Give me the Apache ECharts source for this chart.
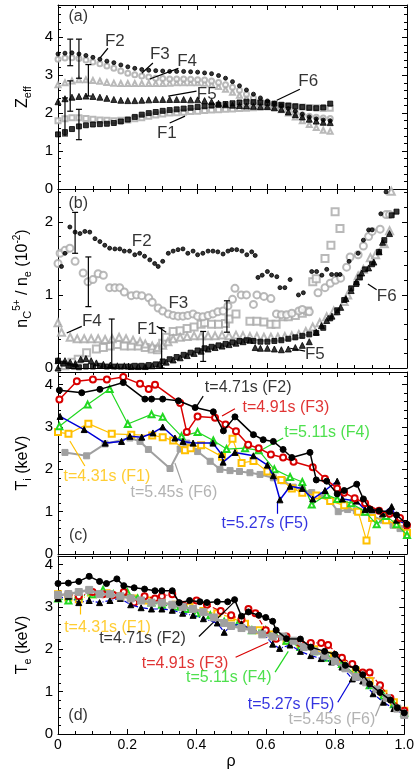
<!DOCTYPE html>
<html>
<head>
<meta charset="utf-8">
<script src="https://cdn.jsdelivr.net/npm/echarts@6/dist/echarts.min.js"></script>
<style>
  html, body { margin: 0; padding: 0; background: #fff; }
  #chart { width: 417px; height: 771px; }
</style>
</head>
<body>
<div id="chart"></div>
<script>
// Colours of the six time slices
const COLORS = {
  F1: '#FFC000',
  F2: '#000000',
  F3: '#D80000',
  F4: '#22D822',
  F5: '#0000D8',
  F6: '#A0A0A0',
};
const OPEN_GRAY = '#a8a8a8';
const FONT = '"Liberation Sans", Arial, sans-serif';

// ---- (a) Zeff profiles ----
const rhoA = [0, 0.02, 0.04, 0.06, 0.08, 0.10, 0.12, 0.14, 0.16, 0.18,
  0.20, 0.22, 0.24, 0.26, 0.28, 0.30, 0.32, 0.34, 0.36, 0.38,
  0.40, 0.42, 0.44, 0.46, 0.48, 0.50, 0.52, 0.54, 0.56, 0.58,
  0.60, 0.62, 0.64, 0.66, 0.68, 0.70, 0.72, 0.74, 0.76, 0.78];
const zeffF1 = [1.80, 1.85, 1.88, 1.88, 1.86, 1.84, 1.82, 1.81, 1.80, 1.81,
  1.82, 1.85, 1.88, 1.92, 1.95, 1.98, 2.00, 2.01, 2.02, 2.04,
  2.05, 2.07, 2.08, 2.09, 2.10, 2.11, 2.12, 2.13, 2.14, 2.16,
  2.18, 2.19, 2.20, 2.19, 2.17, 2.16, 2.15, 2.14, 2.12, 2.13];
const zeffF2 = [3.56, 3.58, 3.59, 3.56, 3.52, 3.47, 3.42, 3.37, 3.33, 3.27,
  3.22, 3.18, 3.15, 3.13, 3.12, 3.11, 3.10, 3.10, 3.10, 3.09,
  3.08, 3.06, 3.04, 2.99, 2.92, 2.83, 2.72, 2.61, 2.50, 2.40,
  2.32, 2.26, 2.20, 2.12, 2.05, 1.97, 1.90, 1.85, 1.82, 1.80];
const zeffF3 = [3.42, 3.45, 3.46, 3.44, 3.40, 3.35, 3.30, 3.24, 3.18, 3.11,
  3.05, 3.01, 2.98, 2.95, 2.92, 2.91, 2.90, 2.90, 2.90, 2.89,
  2.88, 2.87, 2.85, 2.81, 2.75, 2.68, 2.60, 2.50, 2.40, 2.32,
  2.25, 2.17, 2.10, 2.05, 2.00, 1.96, 1.92, 1.89, 1.87, 1.86];
const zeffF4 = [2.75, 2.80, 2.85, 2.88, 2.88, 2.86, 2.84, 2.81, 2.79, 2.78,
  2.78, 2.78, 2.78, 2.78, 2.78, 2.78, 2.79, 2.80, 2.80, 2.80,
  2.80, 2.79, 2.76, 2.70, 2.63, 2.55, 2.47, 2.40, 2.33, 2.27,
  2.21, 2.15, 2.09, 2.00, 1.90, 1.80, 1.70, 1.62, 1.55, 1.52];
const zeffF5 = [2.30, 2.38, 2.42, 2.44, 2.45, 2.44, 2.42, 2.39, 2.36, 2.34,
  2.33, 2.33, 2.34, 2.35, 2.36, 2.36, 2.36, 2.36, 2.36, 2.35,
  2.35, 2.33, 2.30, 2.26, 2.22, 2.21, 2.20, 2.19, 2.18, 2.17,
  2.17, 2.14, 2.10, 2.03, 1.96, 1.90, 1.84, 1.79, 1.76, 1.75];
const zeffF6 = [1.44, 1.50, 1.58, 1.65, 1.68, 1.70, 1.71, 1.72, 1.74, 1.78,
  1.83, 1.90, 1.96, 2.00, 2.03, 2.06, 2.08, 2.10, 2.12, 2.14,
  2.16, 2.18, 2.20, 2.22, 2.24, 2.26, 2.28, 2.30, 2.29, 2.28,
  2.27, 2.25, 2.22, 2.20, 2.18, 2.16, 2.14, 2.13, 2.15, 2.25];
// [rho, low, high]
const zeffErr = [[0.02, 1.4, 2.4], [0.035, 3.25, 3.95], [0.035, 2.05, 2.85],
  [0.06, 2.92, 3.95], [0.06, 1.3, 2.1], [0.087, 2.45, 3.28]];

// ---- (b) nC5+/ne (10^-2), [rho, value] ----
const carbF1 = [[0.02, 0.03], [0.04, 0.08], [0.058, 0.12], [0.082, 0.21], [0.11, 0.26], [0.13, 0.28],
  [0.15, 0.3], [0.17, 0.32], [0.19, 0.3], [0.21, 0.3], [0.23, 0.3], [0.25, 0.28], [0.27, 0.26],
  [0.285, 0.25], [0.3, 0.34], [0.31, 0.42], [0.33, 0.5], [0.35, 0.51], [0.37, 0.54], [0.39, 0.56],
  [0.41, 0.6], [0.42, 0.62], [0.44, 0.6], [0.46, 0.6], [0.48, 0.61], [0.49, 0.67], [0.51, 0.74],
  [0.55, 0.64], [0.57, 0.64], [0.59, 0.63], [0.61, 0.6], [0.625, 0.6], [0.645, 0.7], [0.66, 0.7],
  [0.68, 0.72], [0.7, 0.75], [0.715, 0.78], [0.73, 1.18], [0.74, 1.22], [0.765, 1.5],
  [0.782, 1.68], [0.794, 2.14], [0.808, 1.91]];
const carbF2 = [[0.01, 1.39], [0.02, 1.57], [0.034, 1.93], [0.049, 1.86], [0.063, 1.84], [0.077, 1.87],
  [0.091, 1.86], [0.106, 1.77], [0.12, 1.73], [0.134, 1.68], [0.148, 1.64], [0.163, 1.63],
  [0.177, 1.63], [0.19, 1.6], [0.205, 1.6], [0.22, 1.55], [0.234, 1.57], [0.248, 1.53],
  [0.263, 1.48], [0.277, 1.43], [0.287, 1.39], [0.3, 1.46], [0.316, 1.57], [0.33, 1.6],
  [0.344, 1.62], [0.358, 1.63], [0.372, 1.57], [0.387, 1.6], [0.4, 1.55], [0.415, 1.57],
  [0.43, 1.6], [0.444, 1.6], [0.458, 1.59], [0.473, 1.56], [0.487, 1.6], [0.498, 1.62],
  [0.512, 1.62], [0.527, 1.6], [0.541, 1.55], [0.555, 1.59], [0.565, 1.54],
  [0.573, 1.24], [0.585, 1.27], [0.6, 1.32], [0.612, 1.27], [0.627, 1.25], [0.636, 1.1],
  [0.65, 1.1], [0.665, 1.21], [0.689, 1.0], [0.703, 1.03], [0.727, 1.32], [0.741, 1.32],
  [0.756, 1.27], [0.77, 1.35], [0.784, 1.28], [0.798, 1.28], [0.808, 1.28], [0.834, 1.46],
  [0.86, 1.57], [0.875, 1.75], [0.89, 1.89], [0.9, 1.89], [0.925, 2.11], [0.94, 2.41]];
const carbF3 = [[0.0, 1.43], [0.006, 1.57], [0.02, 1.61], [0.034, 1.64], [0.049, 1.46], [0.072, 1.3],
  [0.086, 1.18], [0.1, 1.21], [0.115, 1.29], [0.13, 1.27], [0.148, 1.1], [0.163, 1.1],
  [0.177, 1.1], [0.19, 1.04], [0.21, 0.99], [0.225, 1.0], [0.24, 0.99], [0.26, 0.96],
  [0.27, 0.9], [0.287, 0.82], [0.3, 0.78], [0.316, 0.74], [0.33, 0.72], [0.344, 0.71],
  [0.358, 0.71], [0.372, 0.72], [0.387, 0.74], [0.4, 0.71], [0.415, 0.7], [0.43, 0.72],
  [0.444, 0.74], [0.458, 0.77], [0.473, 0.78], [0.487, 0.85], [0.5, 0.94], [0.507, 1.09],
  [0.525, 1.0], [0.54, 1.0], [0.56, 0.87], [0.57, 1.0], [0.59, 0.98], [0.61, 0.95],
  [0.626, 0.74], [0.64, 0.73], [0.655, 0.73], [0.67, 0.75], [0.69, 0.78], [0.7, 0.8],
  [0.72, 0.77], [0.745, 1.03], [0.765, 1.1], [0.78, 1.16], [0.795, 1.2], [0.81, 1.23],
  [0.827, 1.38], [0.837, 1.52], [0.86, 1.55], [0.875, 1.67], [0.89, 1.8], [0.9, 1.87],
  [0.923, 1.9], [0.94, 2.1], [0.95, 2.1]];
const carbF4 = [[0.0, 0.62], [0.01, 0.49], [0.035, 0.42], [0.055, 0.4], [0.075, 0.4], [0.095, 0.4],
  [0.115, 0.4], [0.135, 0.39], [0.155, 0.4], [0.175, 0.42], [0.195, 0.4], [0.215, 0.38],
  [0.235, 0.36], [0.25, 0.33], [0.27, 0.3], [0.285, 0.28], [0.3, 0.31], [0.315, 0.36],
  [0.33, 0.4], [0.35, 0.42], [0.37, 0.43], [0.39, 0.44], [0.41, 0.44], [0.43, 0.44],
  [0.45, 0.44], [0.47, 0.45], [0.49, 0.44], [0.51, 0.45], [0.53, 0.44], [0.55, 0.43],
  [0.57, 0.43], [0.59, 0.42], [0.61, 0.42], [0.63, 0.42], [0.65, 0.43], [0.67, 0.44],
  [0.69, 0.46], [0.71, 0.5], [0.73, 0.56], [0.75, 0.62], [0.77, 0.7], [0.79, 0.78],
  [0.82, 0.91], [0.83, 1.0], [0.86, 1.26], [0.875, 1.35], [0.895, 1.51], [0.91, 1.55],
  [0.935, 1.7], [0.95, 1.88], [0.955, 2.42]];
const carbF5 = [[0.0, 0.0], [0.0, 0.1], [0.02, 0.1], [0.035, 0.08], [0.05, 0.06], [0.065, 0.12],
  [0.08, 0.13], [0.095, 0.1], [0.11, 0.07], [0.13, 0.05], [0.15, 0.04], [0.17, 0.03],
  [0.19, 0.03], [0.21, 0.02], [0.23, 0.02], [0.25, 0.02], [0.27, 0.03], [0.29, 0.05],
  [0.31, 0.08], [0.33, 0.11], [0.35, 0.14], [0.37, 0.17], [0.39, 0.2], [0.41, 0.23],
  [0.43, 0.26], [0.45, 0.28], [0.47, 0.3], [0.49, 0.32], [0.51, 0.34], [0.53, 0.36],
  [0.55, 0.38], [0.565, 0.28], [0.58, 0.27], [0.6, 0.27], [0.62, 0.26], [0.64, 0.25],
  [0.66, 0.26], [0.68, 0.28], [0.7, 0.31], [0.72, 0.36], [0.74, 0.49], [0.755, 0.58],
  [0.77, 0.65], [0.785, 0.71], [0.8, 0.77], [0.81, 0.83], [0.825, 0.95], [0.84, 1.06],
  [0.855, 1.18], [0.87, 1.3], [0.89, 1.37], [0.905, 1.45], [0.92, 1.59], [0.93, 1.72],
  [0.95, 1.84]];
const carbF6 = [[0.0, 0.1], [0.015, 0.06], [0.03, 0.03], [0.045, 0.02], [0.06, 0.01], [0.08, 0.02],
  [0.1, 0.02], [0.12, 0.03], [0.14, 0.02], [0.16, 0.02], [0.18, 0.02], [0.2, 0.02],
  [0.22, 0.03], [0.24, 0.03], [0.26, 0.04], [0.28, 0.05], [0.3, 0.09], [0.32, 0.12],
  [0.34, 0.15], [0.36, 0.18], [0.38, 0.21], [0.4, 0.24], [0.42, 0.27], [0.44, 0.29],
  [0.46, 0.31], [0.48, 0.33], [0.5, 0.35], [0.52, 0.37], [0.54, 0.38], [0.56, 0.37],
  [0.58, 0.36], [0.6, 0.36], [0.62, 0.37], [0.64, 0.38], [0.66, 0.4], [0.68, 0.42],
  [0.7, 0.44], [0.72, 0.46], [0.74, 0.48], [0.76, 0.55], [0.78, 0.68], [0.8, 0.79],
  [0.82, 0.93], [0.84, 1.09], [0.855, 1.15], [0.865, 1.24], [0.88, 1.35], [0.9, 1.42],
  [0.92, 1.59], [0.935, 1.75], [0.956, 2.09], [0.97, 2.14]];
const carbErr = [[0.049, 1.57, 2.13], [0.087, 0.84, 1.52], [0.154, 0.0, 0.67],
  [0.297, 0.0, 0.55], [0.416, 0.09, 0.5], [0.484, 0.49, 0.92]];

// ---- (c) Ti (keV), [rho, value] ----
const tiF1 = [[0, 2.88], [0.03, 2.84], [0.087, 3.08], [0.154, 2.84], [0.21, 2.82], [0.27, 2.8],
  [0.3, 2.76], [0.33, 2.68], [0.364, 2.45], [0.38, 2.5], [0.41, 2.57], [0.47, 2.3], [0.5, 2.72],
  [0.526, 2.15], [0.56, 2.2], [0.6, 1.95], [0.64, 1.75], [0.67, 1.55], [0.7, 1.45], [0.74, 1.38],
  [0.78, 1.25], [0.82, 1.15], [0.86, 1.0], [0.884, 0.32], [0.9, 0.85], [0.94, 0.8], [0.97, 0.7],
  [1.0, 0.5]];
const tiF2 = [[0.004, 3.87], [0.068, 3.81], [0.12, 3.89], [0.187, 4.05], [0.249, 3.66], [0.268, 3.66],
  [0.3, 3.66], [0.345, 3.62], [0.393, 3.46], [0.445, 3.36], [0.474, 2.91], [0.507, 3.24],
  [0.56, 2.82], [0.588, 2.7], [0.617, 2.66], [0.645, 2.47], [0.67, 2.28], [0.722, 2.4],
  [0.74, 1.75], [0.77, 1.72], [0.8, 1.42], [0.82, 1.5], [0.856, 1.65], [0.875, 1.3],
  [0.894, 1.06], [0.92, 1.02], [0.95, 1.0], [0.97, 0.92], [1.0, 0.7]];
const tiF3 = [[0.004, 3.65], [0.054, 4.08], [0.1, 4.12], [0.14, 4.12], [0.187, 4.18], [0.235, 4.02],
  [0.26, 3.9], [0.278, 4.0], [0.35, 3.57], [0.369, 2.88], [0.4, 3.25], [0.45, 3.22], [0.48, 3.06],
  [0.51, 2.9], [0.545, 2.58], [0.575, 2.5], [0.61, 2.35], [0.645, 2.28], [0.675, 2.18],
  [0.73, 2.05], [0.765, 1.78], [0.8, 1.55], [0.82, 1.45], [0.85, 1.32], [0.88, 1.2],
  [0.92, 1.02], [0.95, 0.95], [0.98, 0.85], [1.0, 0.68]];
const tiF4 = [[0.004, 3.02], [0.085, 3.53], [0.148, 3.9], [0.2, 3.07], [0.268, 3.3], [0.3, 3.24],
  [0.354, 2.78], [0.4, 2.88], [0.445, 2.68], [0.483, 2.48], [0.536, 2.5], [0.575, 2.45],
  [0.62, 2.0], [0.665, 1.82], [0.7, 1.7], [0.727, 1.17], [0.77, 1.4], [0.8, 1.3], [0.84, 1.2],
  [0.88, 1.0], [0.913, 0.7], [0.94, 0.9], [0.97, 0.7], [1.0, 0.45]];
const tiF5 = [[0.006, 3.25], [0.075, 2.94], [0.135, 2.62], [0.182, 2.66], [0.206, 2.78], [0.24, 2.76],
  [0.272, 2.86], [0.3, 3.0], [0.335, 2.74], [0.358, 2.66], [0.387, 2.62], [0.444, 2.62],
  [0.469, 2.35], [0.473, 2.17], [0.507, 2.4], [0.56, 2.32], [0.6, 2.1], [0.617, 1.85],
  [0.636, 1.28], [0.665, 1.6], [0.7, 1.55], [0.73, 1.3], [0.765, 1.5], [0.8, 1.72],
  [0.815, 1.3], [0.855, 1.25], [0.88, 1.05], [0.9, 1.05], [0.93, 0.95], [0.956, 1.12],
  [0.97, 0.8], [1.0, 0.7]];
const tiF6 = [[0.02, 2.4], [0.082, 2.32], [0.135, 2.6], [0.206, 2.74], [0.235, 2.66], [0.259, 2.47],
  [0.321, 2.02], [0.35, 2.48], [0.369, 2.62], [0.4, 2.42], [0.436, 2.19], [0.464, 2.0],
  [0.493, 1.97], [0.52, 1.95], [0.55, 1.92], [0.579, 1.88], [0.617, 1.8], [0.645, 1.73],
  [0.674, 1.58], [0.7, 1.52], [0.727, 1.45], [0.757, 1.38], [0.78, 1.25], [0.803, 1.0],
  [0.83, 1.05], [0.855, 1.02], [0.88, 0.98], [0.9, 0.9], [0.93, 0.8], [0.96, 0.68],
  [0.98, 0.6], [1.0, 0.5]];

// ---- (d) Te (keV), [rho, value] ----
const teF1 = [[0, 3.3], [0.03, 3.22], [0.06, 3.18], [0.1, 3.3], [0.14, 3.32], [0.18, 3.25], [0.22, 3.2],
  [0.26, 3.15], [0.3, 3.1], [0.34, 3.05], [0.38, 3.0], [0.42, 2.9], [0.46, 2.85], [0.5, 2.75],
  [0.54, 2.6], [0.58, 2.45], [0.62, 2.35], [0.66, 2.2], [0.7, 2.1], [0.74, 2.0], [0.78, 1.85],
  [0.82, 1.7], [0.86, 1.5], [0.9, 1.25], [0.94, 0.95], [0.97, 0.75], [1.0, 0.55]];
const teF2 = [[0.0, 3.55], [0.03, 3.56], [0.06, 3.6], [0.09, 3.72], [0.12, 3.6], [0.14, 3.55],
  [0.17, 3.66], [0.19, 3.5], [0.22, 3.45], [0.25, 3.42], [0.28, 3.38], [0.3, 3.38], [0.33, 3.38],
  [0.35, 3.1], [0.38, 3.15], [0.41, 3.12], [0.43, 3.1], [0.46, 3.12], [0.49, 3.12], [0.51, 3.17],
  [0.53, 2.78], [0.55, 2.88], [0.58, 2.8], [0.6, 2.75], [0.62, 2.66], [0.63, 2.45], [0.66, 2.25],
  [0.7, 2.24], [0.73, 2.05], [0.77, 1.95], [0.8, 1.88], [0.83, 1.62], [0.86, 1.55], [0.88, 1.4],
  [0.9, 1.18], [0.93, 0.98], [0.96, 0.8], [0.98, 0.62], [1.0, 0.5]];
const teF3 = [[0, 3.25], [0.03, 3.3], [0.06, 3.25], [0.1, 3.35], [0.13, 3.3], [0.16, 3.28], [0.19, 3.35],
  [0.22, 3.1], [0.25, 3.25], [0.28, 3.2], [0.3, 3.25], [0.33, 3.3], [0.36, 3.05], [0.4, 3.15],
  [0.43, 3.05], [0.47, 2.9], [0.5, 2.8], [0.53, 2.7], [0.55, 2.95], [0.57, 2.85], [0.6, 2.45],
  [0.63, 2.25], [0.66, 2.3], [0.7, 2.15], [0.73, 2.15], [0.76, 2.15], [0.78, 2.1], [0.82, 1.8],
  [0.85, 1.65], [0.88, 1.45], [0.9, 1.45], [0.93, 1.15], [0.96, 0.85], [1.0, 0.55]];
const teF4 = [[0, 3.2], [0.03, 3.15], [0.06, 3.25], [0.1, 3.3], [0.13, 3.4], [0.16, 3.3], [0.2, 3.35],
  [0.23, 3.2], [0.27, 3.1], [0.3, 3.05], [0.34, 3.0], [0.37, 2.95], [0.4, 2.85], [0.44, 2.8],
  [0.48, 2.65], [0.52, 2.6], [0.56, 2.45], [0.6, 2.45], [0.63, 2.3], [0.66, 2.2], [0.7, 2.05],
  [0.74, 1.95], [0.78, 1.8], [0.82, 1.65], [0.86, 1.4], [0.9, 1.15], [0.94, 0.9], [0.97, 0.7],
  [1.0, 0.5]];
const teF5 = [[0, 3.2], [0.03, 3.25], [0.06, 3.1], [0.09, 3.15], [0.12, 3.1], [0.15, 3.15], [0.18, 3.2],
  [0.21, 3.05], [0.24, 2.98], [0.27, 2.95], [0.3, 2.95], [0.33, 2.92], [0.36, 2.85], [0.39, 2.8],
  [0.42, 2.72], [0.46, 2.62], [0.48, 2.4], [0.5, 2.55], [0.53, 2.6], [0.56, 2.45], [0.59, 2.4],
  [0.62, 2.12], [0.64, 2.02], [0.67, 2.1], [0.7, 1.95], [0.73, 1.85], [0.76, 1.78], [0.79, 1.7],
  [0.82, 1.58], [0.85, 1.3], [0.88, 1.25], [0.91, 0.95], [0.94, 0.75], [0.97, 0.6], [1.0, 0.45]];
const teF6 = [[0, 3.28], [0.03, 3.3], [0.06, 3.35], [0.09, 3.4], [0.12, 3.3], [0.15, 3.3], [0.18, 3.25],
  [0.21, 3.2], [0.24, 3.15], [0.27, 3.1], [0.3, 3.1], [0.33, 3.05], [0.36, 3.0], [0.39, 2.95],
  [0.42, 2.88], [0.45, 2.75], [0.48, 2.62], [0.5, 2.55], [0.53, 2.5], [0.56, 2.45], [0.59, 2.35],
  [0.62, 2.3], [0.65, 2.3], [0.68, 2.2], [0.71, 2.05], [0.74, 1.95], [0.77, 1.85], [0.8, 1.72],
  [0.83, 1.55], [0.86, 1.35], [0.89, 1.22], [0.92, 1.05], [0.95, 0.85], [0.98, 0.6], [1.0, 0.45]];

// Annotations: [text x, text y, label, arrow tail x, y, arrow head x, y, colour]
const notesA = [
  [0.163, 3.9, 'F2', 0.143, 3.71, 0.12, 3.45, '#000'],
  [0.292, 3.55, 'F3', 0.272, 3.32, 0.24, 3.05, '#000'],
  [0.37, 3.37, 'F4', 0.345, 3.18, 0.263, 2.9, '#000'],
  [0.426, 2.5, 'F5', 0.397, 2.58, 0.316, 2.45, '#000'],
  [0.717, 2.84, 'F6', 0.693, 2.63, 0.627, 2.34, '#000'],
  [0.312, 1.47, 'F1', 0.32, 1.74, 0.364, 1.92, '#000'],
];
const notesB = [
  [0.24, 1.73, 'F2'],
  [0.345, 0.89, 'F3'],
  [0.097, 0.64, 'F4', 0.068, 0.57, 0.025, 0.48, '#000'],
  [0.255, 0.53, 'F1', 0.283, 0.57, 0.31, 0.49, '#000'],
  [0.942, 0.98, 'F6', 0.913, 1.07, 0.888, 1.15, '#000'],
  [0.736, 0.19, 'F5', 0.708, 0.23, 0.665, 0.27, '#000'],
];
const notesC = [
  [0.545, 3.92, 't=4.71s (F2)', 0.416, 3.73, 0.398, 3.5, COLORS.F2],
  [0.653, 3.45, 't=4.91s (F3)', 0.507, 3.43, 0.47, 3.26, COLORS.F3],
  [0.771, 2.86, 't=5.11s (F4)', 0.645, 2.74, 0.579, 2.44, COLORS.F4],
  [0.14, 1.84, 't=4.31s (F1)', 0.077, 2.08, 0.034, 2.67, COLORS.F1],
  [0.332, 1.44, 't=5.45s (F6)', 0.355, 1.68, 0.335, 2.15, COLORS.F6],
  [0.593, 0.73, 't=5.27s (F5)', 0.627, 0.95, 0.627, 1.25, COLORS.F5],
];
const notesD = [
  [0.143, 2.52, 't=4.31s (F1)', 0.063, 2.82, 0.063, 3.06, COLORS.F1],
  [0.244, 2.24, 't=4.71s (F2)', 0.407, 2.3, 0.507, 3.1, COLORS.F2],
  [0.367, 1.65, 't=4.91s (F3)', 0.513, 1.81, 0.607, 2.16, COLORS.F3],
  [0.493, 1.34, 't=5.11s (F4)', 0.627, 1.46, 0.665, 1.95, COLORS.F4],
  [0.673, 0.7, 't=5.27s (F5)', 0.808, 0.75, 0.845, 1.25, COLORS.F5],
  [0.791, 0.35, 't=5.45s (F6)', 0.917, 0.42, 0.937, 0.82, COLORS.F6],
];
const panelTags = [[0.058, 4.55, '(a)'], [0.058, 2.25, '(b)'], [0.058, 0.43, '(c)'], [0.058, 0.43, '(d)']];

// Panel layout (pixels)
const GRIDS = [
  { top: 5, height: 184 },
  { top: 189, height: 179 },
  { top: 372, height: 182 },
  { top: 556, height: 180 },
];
const Y_RANGE = [[0, 4.85], [0, 2.45], [0, 4.3], [0, 4.2]];

const chart = echarts.init(document.getElementById('chart'), null, { renderer: 'canvas' });

const xAxes = [];
const yAxes = [];
GRIDS.forEach((g, i) => {
  const last = i === GRIDS.length - 1;
  ['bottom', 'top'].forEach(pos => {
    xAxes.push({
      type: 'value', gridIndex: i, position: pos, min: 0, max: 1, interval: 0.2,
      axisLine: { onZero: false, lineStyle: { color: '#000', width: 1 } },
      axisTick: { inside: true, length: 5, lineStyle: { color: '#000' } },
      minorTick: { show: true, splitNumber: 4, length: 3, lineStyle: { color: '#000' } },
      splitLine: { show: false },
      axisLabel: {
        show: last && pos === 'bottom', color: '#000', fontFamily: FONT, fontSize: 14, margin: 4,
        formatter: v => (v === 0 ? '0' : v.toFixed(1)),
      },
      name: last && pos === 'bottom' ? 'ρ' : '',
      nameLocation: 'middle', nameGap: 20,
      nameTextStyle: { color: '#000', fontFamily: FONT, fontSize: 16 },
    });
  });
  ['left', 'right'].forEach(pos => {
    yAxes.push({
      type: 'value', gridIndex: i, position: pos,
      min: Y_RANGE[i][0], max: Y_RANGE[i][1], interval: 1,
      axisLine: { onZero: false, lineStyle: { color: '#000', width: 1 } },
      axisTick: { inside: true, length: 5, lineStyle: { color: '#000' } },
      minorTick: { show: true, splitNumber: 5, length: 3, lineStyle: { color: '#000' } },
      splitLine: { show: false },
      axisLabel: {
        show: pos === 'left', color: '#000', fontFamily: FONT, fontSize: 15, margin: 5,
        showMaxLabel: false,
      },
    });
  });
});

const nameRich = {
  m: { fontSize: 16, fontFamily: FONT, color: '#000', lineHeight: 22 },
  s: { fontSize: 11, fontFamily: FONT, color: '#000', lineHeight: 10, verticalAlign: 'bottom' },
  u: { fontSize: 10, fontFamily: FONT, color: '#000', lineHeight: 10, verticalAlign: 'top' },
};
const yNames = [
  '{m|Z}{s|eff}',
  '{m|n}{s|C}{u|5+}{m| / n}{s|e}{m| (10}{u|-2}{m|)}',
  '{m|T}{s|i}{m| (keV)}',
  '{m|T}{s|e}{m| (keV)}',
];
const yGaps = [14, 22, 24, 24];
yNames.forEach((n, i) => {
  Object.assign(yAxes[2 * i], {
    name: n, nameLocation: 'middle', nameGap: yGaps[i], nameRotate: 90,
    nameTextStyle: { rich: nameRich },
  });
});

// Series helpers
function markers(grid, data, symbol, color, size, z) {
  return {
    type: 'scatter', xAxisIndex: 2 * grid, yAxisIndex: 2 * grid,
    data, symbol, symbolSize: size, z: z || 2, silent: true,
    itemStyle: { color, borderColor: color, borderWidth: 1 },
  };
}

function profile(grid, data, symbol, markerColor, lineColor, size, width, dashed, z) {
  return {
    type: 'line', xAxisIndex: 2 * grid, yAxisIndex: 2 * grid,
    data, symbol, symbolSize: size, showAllSymbol: true, z: z || 2, silent: true,
    itemStyle: { color: markerColor, borderColor: markerColor, borderWidth: 1 },
    lineStyle: { color: lineColor, width, type: dashed ? [5, 2, 1, 2] : 'solid' },
  };
}

function errorBars(grid, data) {
  return {
    type: 'custom', xAxisIndex: 2 * grid, yAxisIndex: 2 * grid, data, z: 5, silent: true,
    encode: { x: 0, y: [1, 2] },
    renderItem: (params, api) => {
      const lo = api.coord([api.value(0), api.value(1)]);
      const hi = api.coord([api.value(0), api.value(2)]);
      const st = { stroke: '#000', lineWidth: 1.2 };
      return {
        type: 'group',
        children: [
          { type: 'line', shape: { x1: lo[0], y1: lo[1], x2: hi[0], y2: hi[1] }, style: st },
          { type: 'line', shape: { x1: lo[0] - 3, y1: lo[1], x2: lo[0] + 3, y2: lo[1] }, style: st },
          { type: 'line', shape: { x1: hi[0] - 3, y1: hi[1], x2: hi[0] + 3, y2: hi[1] }, style: st },
        ],
      };
    },
  };
}

function notes(grid, list, fontSize) {
  const arrows = list.filter(n => n.length > 3).map(n => [
    { coord: [n[3], n[4]], lineStyle: { color: n[7], width: 1.2, type: 'solid' } },
    { coord: [n[5], n[6]] },
  ]);
  return {
    type: 'scatter', xAxisIndex: 2 * grid, yAxisIndex: 2 * grid, symbolSize: 0, z: 10, silent: true,
    data: list.map(n => ({
      value: [n[0], n[1]], name: n[2],
      label: { color: n.length > 7 ? n[7] : '#000' },
    })),
    label: { show: true, position: 'inside', formatter: '{b}', fontFamily: FONT, fontSize },
    markLine: {
      silent: true, animation: false, symbol: ['none', 'arrow'], symbolSize: [0, 7],
      label: { show: false }, data: arrows,
    },
  };
}

const series = [
  // (a)
  markers(0, rhoA.map((r, i) => [r, zeffF4[i]]), 'emptyTriangle', OPEN_GRAY, 5),
  markers(0, rhoA.map((r, i) => [r, zeffF1[i]]), 'emptyRect', OPEN_GRAY, 5),
  markers(0, rhoA.map((r, i) => [r, zeffF3[i]]), 'emptyCircle', OPEN_GRAY, 5),
  markers(0, rhoA.map((r, i) => [r, zeffF5[i]]), 'triangle', '#000', 6, 3),
  markers(0, rhoA.map((r, i) => [r, zeffF6[i]]), 'rect', '#000', 5, 3),
  markers(0, rhoA.map((r, i) => [r, zeffF2[i]]), 'circle', '#000', 4, 3),
  errorBars(0, zeffErr),
  notes(0, notesA, 17),
  // (b)
  markers(1, carbF1, 'emptyRect', OPEN_GRAY, 7),
  markers(1, carbF3, 'emptyCircle', OPEN_GRAY, 7),
  markers(1, carbF4, 'emptyTriangle', OPEN_GRAY, 7),
  markers(1, carbF5, 'triangle', '#000', 6, 3),
  markers(1, carbF6, 'rect', '#000', 5, 3),
  markers(1, carbF2, 'circle', '#000', 4, 3),
  errorBars(1, carbErr),
  notes(1, notesB, 17),
  // (c)
  profile(2, tiF6, 'rect', COLORS.F6, COLORS.F6, 6, 2, false, 2),
  profile(2, tiF1, 'emptyRect', COLORS.F1, COLORS.F1, 6, 1.2, false, 3),
  profile(2, tiF4, 'emptyTriangle', COLORS.F4, COLORS.F4, 6, 1.2, false, 4),
  profile(2, tiF5, 'triangle', '#000', COLORS.F5, 6, 1.5, false, 5),
  profile(2, tiF3, 'emptyCircle', COLORS.F3, COLORS.F3, 6, 1.5, false, 6),
  profile(2, tiF2, 'circle', '#000', '#000', 6, 1.5, false, 7),
  notes(2, notesC, 16),
  // (d)
  profile(3, teF1, 'emptyRect', COLORS.F1, COLORS.F1, 6, 1.2, true, 2),
  profile(3, teF4, 'emptyTriangle', COLORS.F4, COLORS.F4, 6, 1.2, true, 3),
  profile(3, teF3, 'emptyCircle', COLORS.F3, COLORS.F3, 6, 1.2, true, 4),
  profile(3, teF5, 'triangle', '#000', COLORS.F5, 6, 1.2, true, 5),
  profile(3, teF6, 'rect', COLORS.F6, COLORS.F6, 7, 2.5, false, 6),
  profile(3, teF2, 'circle', '#000', '#000', 6, 1.5, false, 7),
  notes(3, notesD, 16),
  // panel tags
  ...panelTags.map((t, i) => notes(i, [[t[0], t[1], t[2]]], 16)),
];

chart.setOption({
  animation: false,
  backgroundColor: '#fff',
  grid: GRIDS.map(g => ({ left: 58, right: 10, top: g.top, height: g.height })),
  xAxis: xAxes,
  yAxis: yAxes,
  series,
});
</script>
</body>
</html>
